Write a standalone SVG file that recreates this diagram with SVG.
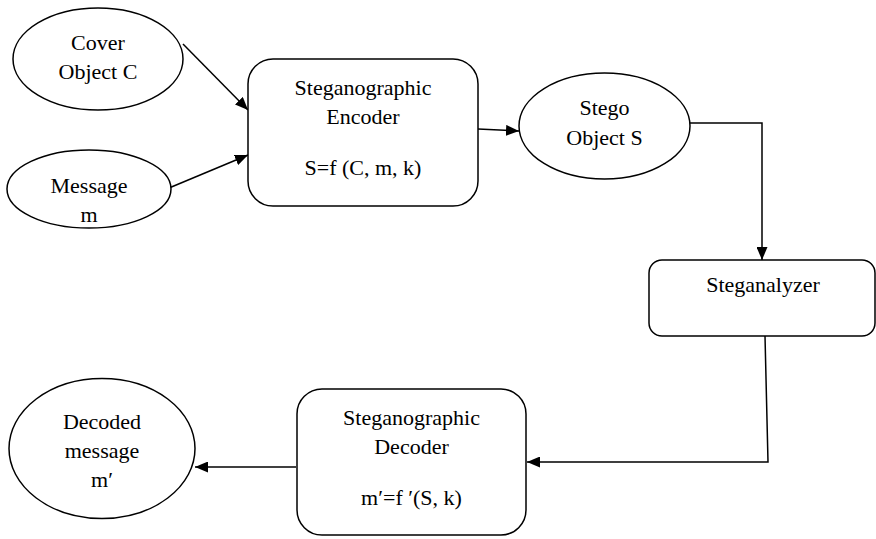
<svg xmlns="http://www.w3.org/2000/svg" width="876" height="539" viewBox="0 0 876 539">
  <style>
    .shape { fill: #ffffff; stroke: #000000; stroke-width: 1.5; }
    .label { font-family: 'Liberation Serif', 'DejaVu Serif', serif; font-size: 22px; fill: #000000; text-anchor: middle; }
    .wire { fill: none; stroke: #000000; stroke-width: 1.5; }
  </style>
  <defs>
    <marker id="arrow" viewBox="0 0 13 11" refX="13" refY="5.5" markerWidth="13" markerHeight="11" markerUnits="userSpaceOnUse" orient="auto">
      <path d="M0,0 L13,5.5 L0,11 Z" fill="#000000"/>
    </marker>
  </defs>

  <rect width="876" height="539" fill="#ffffff"/>

  <g id="connectors">
    <line class="wire" x1="183" y1="44" x2="248" y2="110" marker-end="url(#arrow)"/>
    <line class="wire" x1="169" y1="188" x2="248" y2="155" marker-end="url(#arrow)"/>
    <line class="wire" x1="478" y1="129" x2="519" y2="131" marker-end="url(#arrow)"/>
    <polyline class="wire" points="690,123 762,123 762,260" marker-end="url(#arrow)"/>
    <polyline class="wire" points="765,336 768,462 527,462" marker-end="url(#arrow)"/>
    <line class="wire" x1="296" y1="467" x2="195" y2="467" marker-end="url(#arrow)"/>
  </g>

  <g id="cover">
    <ellipse class="shape" cx="98" cy="59" rx="85" ry="51"/>
    <text class="label" x="98" y="50">Cover</text>
    <text class="label" x="98" y="79">Object C</text>
  </g>

  <g id="message">
    <ellipse class="shape" cx="89" cy="189" rx="82" ry="39"/>
    <text class="label" x="89" y="193">Message</text>
    <text class="label" x="89" y="222">m</text>
  </g>

  <g id="encoder">
    <rect class="shape" x="248" y="59" width="230" height="147" rx="25" ry="25"/>
    <text class="label" x="363" y="95">Steganographic</text>
    <text class="label" x="363" y="124">Encoder</text>
    <text class="label" x="363" y="175">S=f (C, m, k)</text>
  </g>

  <g id="stego">
    <ellipse class="shape" cx="604.5" cy="126" rx="85.5" ry="53"/>
    <text class="label" x="604.5" y="115">Stego</text>
    <text class="label" x="604.5" y="145">Object S</text>
  </g>

  <g id="steganalyzer">
    <rect class="shape" x="649" y="260" width="226" height="76" rx="13" ry="13"/>
    <text class="label" x="763" y="292">Steganalyzer</text>
  </g>

  <g id="decoder">
    <rect class="shape" x="297" y="389" width="229" height="146" rx="25" ry="25"/>
    <text class="label" x="411.5" y="425">Steganographic</text>
    <text class="label" x="411.5" y="454">Decoder</text>
    <text class="label" x="411.5" y="505">m′=f ′(S, k)</text>
  </g>

  <g id="decoded">
    <ellipse class="shape" cx="102" cy="448.5" rx="93" ry="70"/>
    <text class="label" x="102" y="429">Decoded</text>
    <text class="label" x="102" y="458">message</text>
    <text class="label" x="102" y="487">m′</text>
  </g>
</svg>
